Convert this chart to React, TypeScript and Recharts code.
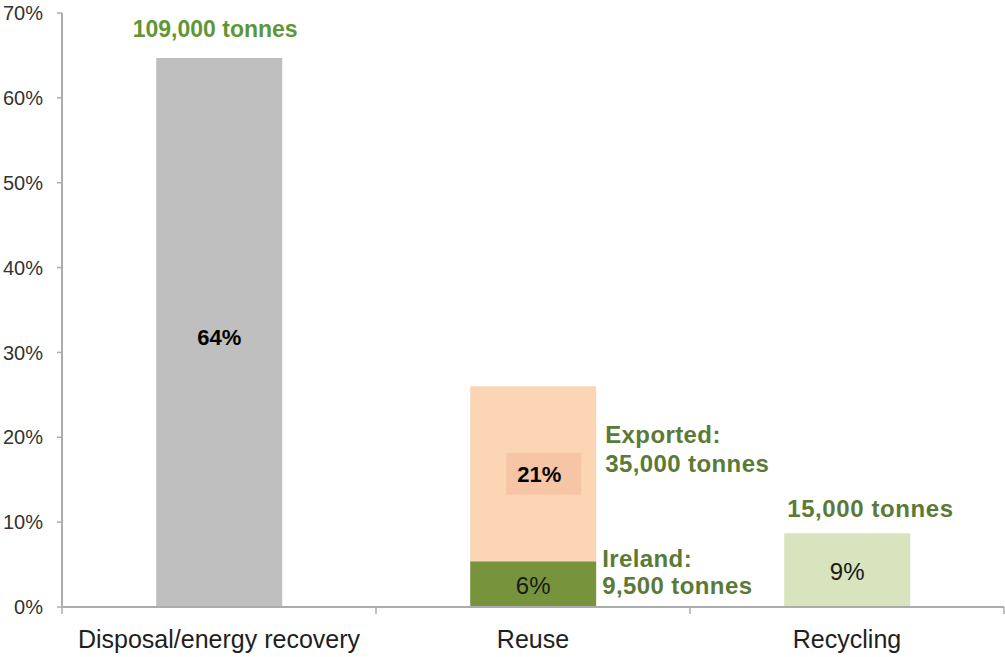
import React from 'react';
import { BarChart, Bar, XAxis, YAxis, Cell, LabelList } from 'recharts';

// shares of total (percent)
const categories = ['Disposal/energy recovery', 'Reuse', 'Recycling'];
const baseShare = [64.7, 5.4, 8.7];
const exportedShare = [0, 20.6, 0];
const baseLabels = ['64%', '6%', '9%'];
const exportedLabels = ['', '21%', ''];
const tonnage = [['109,000 tonnes'], ['Ireland:', '9,500 tonnes'], ['15,000 tonnes']];
const exportedTonnage = [[], ['Exported:', '35,000 tonnes'], []];
const yTicks = [0, 10, 20, 30, 40, 50, 60, 70];

const W = 1005;
const H = 657;
const Y_AXIS_W = 62;
const X_AXIS_H = 50;
const MARGIN = { top: 13, right: 1, bottom: 0, left: 0 };
const BAND = (W - Y_AXIS_W - MARGIN.right - MARGIN.left) / categories.length;

const FONT = '"Liberation Sans", Arial, sans-serif';
const AXIS = '#acacac';
const BASE_COLORS = ['#bfbfbf', '#77933c', '#d7e4bd'];
const EXPORT_COLOR = '#fcd5b5';
const LABEL_BOX = '#f6c5a6';
const GREEN_BRIGHT = '#5f9636';
const GREEN_DARK = '#5b7a36';

const data = categories.map((name, i) => ({
  name,
  base: baseShare[i],
  exported: exportedShare[i],
}));

function box(props: any) {
  const vb = props.viewBox || {};
  return {
    x: props.x ?? vb.x,
    y: props.y ?? vb.y,
    width: props.width ?? vb.width,
    height: props.height ?? vb.height,
  };
}

function CategoryTick(props: any) {
  const { x, y, payload } = props;
  const index = categories.indexOf(payload.value);
  const half = BAND / 2;
  return (
    <g>
      <line x1={x - half} x2={x - half} y1={y - 7} y2={y} stroke={AXIS} strokeWidth={1.5} />
      {index === categories.length - 1 && (
        <line x1={x + half} x2={x + half} y1={y - 7} y2={y} stroke={AXIS} strokeWidth={1.5} />
      )}
      <text x={x} y={y + 34} textAnchor="middle" fontSize={25} fill="#1e1e1e" fontFamily={FONT}>
        {payload.value}
      </text>
    </g>
  );
}

function BaseLabel(props: any) {
  const { x, y, width, height } = box(props);
  const i = categories.indexOf(props.value);
  if (i < 0) return null;
  const cx = x + width / 2;
  const cy = y + height / 2;
  const lines = tonnage[i];
  let tonText: React.ReactNode = null;
  if (i === 0) {
    tonText = (
      <text x={cx - 4} y={y - 21} textAnchor="middle" fontSize={23} fontWeight="bold" fill={GREEN_BRIGHT}>
        {lines[0]}
      </text>
    );
  } else if (i === 1) {
    tonText = (
      <text x={x + width + 6} y={y + 6} fontSize={24} fontWeight="bold" fill={GREEN_DARK} letterSpacing={0.4}>
        <tspan x={x + width + 6}>{lines[0]}</tspan>
        <tspan x={x + width + 6} dy={27}>{lines[1]}</tspan>
      </text>
    );
  } else {
    tonText = (
      <text x={x + 3} y={y - 16} fontSize={24} fontWeight="bold" fill={GREEN_DARK} letterSpacing={0.6}>
        {lines[0]}
      </text>
    );
  }
  return (
    <g fontFamily={FONT}>
      <text
        x={cx}
        y={cy + (i === 0 ? 5 : 1)}
        textAnchor="middle"
        dominantBaseline="central"
        fontSize={i === 0 ? 22 : 24}
        fontWeight={i === 0 ? 'bold' : 'normal'}
        fill={i === 0 ? '#000' : '#1a1a1a'}
      >
        {baseLabels[i]}
      </text>
      {tonText}
    </g>
  );
}

function ExportedLabel(props: any) {
  const { x, y, width, height } = box(props);
  const i = categories.indexOf(props.value);
  if (i < 0 || !exportedLabels[i]) return null;
  const cx = x + width / 2 + 10;
  const cy = y + height / 2;
  const lines = exportedTonnage[i];
  return (
    <g fontFamily={FONT}>
      <rect x={cx - 37} y={cy - 21} width={75} height={42} fill={LABEL_BOX} />
      <text x={cx - 4} y={cy + 1} textAnchor="middle" dominantBaseline="central" fontSize={22} fontWeight="bold" fill="#000">
        {exportedLabels[i]}
      </text>
      <text x={x + width + 9} y={cy - 31} fontSize={24} fontWeight="bold" fill={GREEN_DARK} letterSpacing={0.4}>
        <tspan x={x + width + 9}>{lines[0]}</tspan>
        <tspan x={x + width + 9} dy={29}>{lines[1]}</tspan>
      </text>
    </g>
  );
}

export default function App() {
  return (
    <div style={{ position: 'absolute', left: 0, top: 0, width: W, height: H, background: '#fff' }}>
      <BarChart width={W} height={H} data={data} margin={MARGIN} barCategoryGap="30%">
        <XAxis
          dataKey="name"
          height={X_AXIS_H}
          axisLine={{ stroke: AXIS, strokeWidth: 2 }}
          tickLine={false}
          tickSize={7}
          tickMargin={0}
          interval={0}
          tick={<CategoryTick />}
        />
        <YAxis
          width={Y_AXIS_W}
          domain={[0, 70]}
          ticks={yTicks}
          interval={0}
          tickFormatter={(v) => `${v}%`}
          axisLine={{ stroke: AXIS, strokeWidth: 2 }}
          tickLine={{ stroke: AXIS, strokeWidth: 1.5 }}
          tickSize={5}
          tickMargin={14}
          tick={{ fontSize: 20, fill: '#333', fontFamily: FONT }}
        />
        <Bar dataKey="base" stackId="s" isAnimationActive={false}>
          {data.map((d, i) => (
            <Cell key={d.name} fill={BASE_COLORS[i]} />
          ))}
          <LabelList dataKey="name" content={<BaseLabel />} />
        </Bar>
        <Bar dataKey="exported" stackId="s" fill={EXPORT_COLOR} isAnimationActive={false}>
          <LabelList dataKey="name" content={<ExportedLabel />} />
        </Bar>
      </BarChart>
    </div>
  );
}
